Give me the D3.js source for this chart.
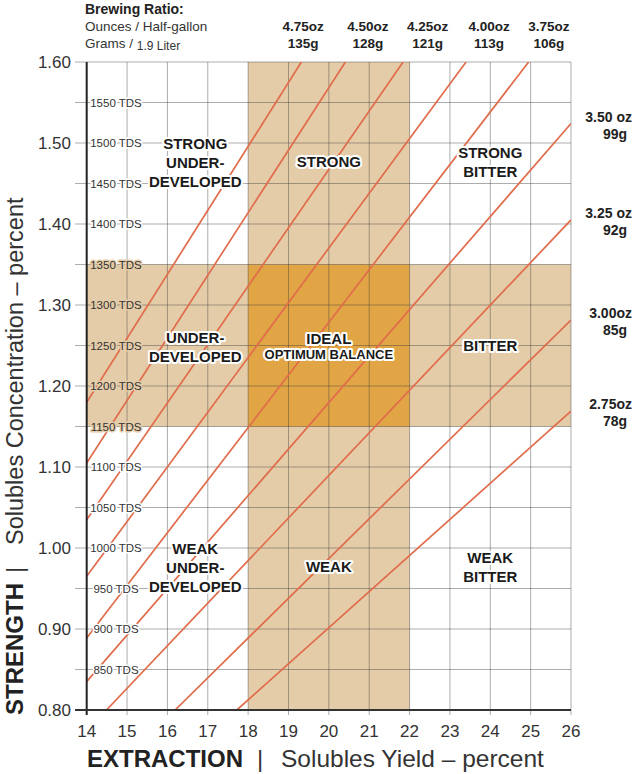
<!DOCTYPE html>
<html><head><meta charset="utf-8">
<script src="https://cdn.jsdelivr.net/npm/d3@7"></script>
<style>body{margin:0;background:#fff}svg{display:block}</style>
</head><body>
<script>
// ---- data ----
const extractionTicks = [14,15,16,17,18,19,20,21,22,23,24,25,26];
const strengthTicks = [0.80,0.90,1.00,1.10,1.20,1.30,1.40,1.50,1.60];
const tdsLevels = [850,900,950,1000,1050,1100,1150,1200,1250,1300,1350,1400,1450,1500,1550];
const idealExtraction = [18, 22];
const idealStrength = [1.15, 1.35];
const ratioOunces = ["4.75oz","4.50oz","4.25oz","4.00oz","3.75oz","3.50 oz","3.25 oz","3.00oz","2.75oz"];
const ratioGrams  = ["135g","128g","121g","113g","106g","99g","92g","85g","78g"];
const lineStartExtraction = [14, 14, 14, 14, 14, 14, 14.49, 16.19, 17.72];
const lineStartStrength   = [1.180, 1.105, 1.035, 0.965, 0.889, 0.835, 0.80, 0.80, 0.80];
const lineEndExtraction   = [19.32, 20.41, 21.84, 23.40, 24.95, 26, 26, 26, 26];
const lineEndStrength     = [1.60, 1.60, 1.60, 1.60, 1.60, 1.524, 1.405, 1.2815, 1.169];
const topLabelExtraction  = [19.36, 20.97, 22.45, 23.97, 25.45];
const zoneNames = [["STRONG","UNDER-","DEVELOPED"],["STRONG"],["STRONG","BITTER"],
                   ["UNDER-","DEVELOPED"],["IDEAL"],["BITTER"],
                   ["WEAK","UNDER-","DEVELOPED"],["WEAK"],["WEAK","BITTER"]];
const zoneExtraction = [16.69, 20.0, 24.0, 16.69, 20.0, 24.0, 16.69, 20.0, 24.0];
const zoneStrength   = [1.4926, 1.4704, 1.4815, 1.2531, 1.2519, 1.2432, 0.9926, 0.9704, 0.9815];
const idealSubtitle = "OPTIMUM BALANCE";

// ---- drawing ----
const W = 640, H = 774;
const FONT = "'Liberation Sans', Arial, Helvetica, sans-serif";
const x = d3.scaleLinear().domain([14, 26]).range([86.7, 571]);
const y = d3.scaleLinear().domain([0.80, 1.60]).range([710, 62]);
const TAN = "#E5CCA8", IDEAL = "#E1A546", LINE = "#E06C4B", GRID = "rgba(60,60,60,0.42)";

const svg = d3.select("body").append("svg").attr("width", W).attr("height", H)
  .style("font-family", FONT);

// bands
svg.append("rect").attr("x", x(idealExtraction[0])).attr("y", y(1.60))
  .attr("width", x(idealExtraction[1]) - x(idealExtraction[0])).attr("height", y(0.80) - y(1.60)).attr("fill", TAN);
svg.append("rect").attr("x", x(14)).attr("y", y(idealStrength[1]))
  .attr("width", x(26) - x(14)).attr("height", y(idealStrength[0]) - y(idealStrength[1])).attr("fill", TAN);
svg.append("rect").attr("x", x(idealExtraction[0])).attr("y", y(idealStrength[1]))
  .attr("width", x(idealExtraction[1]) - x(idealExtraction[0]))
  .attr("height", y(idealStrength[0]) - y(idealStrength[1])).attr("fill", IDEAL);

// grid
const tdsStrength = tdsLevels.map(t => t / 1000);
svg.append("g").selectAll("line").data(tdsStrength.concat([1.60])).join("line")
  .attr("x1", 75).attr("x2", x(26)).attr("y1", d => y(d)).attr("y2", d => y(d))
  .attr("stroke", GRID).attr("stroke-width", 1);
svg.append("g").selectAll("line").data(extractionTicks.slice(1)).join("line")
  .attr("x1", d => x(d)).attr("x2", d => x(d)).attr("y1", y(1.60)).attr("y2", y(0.80) + 5)
  .attr("stroke", GRID).attr("stroke-width", 1);

// ratio lines
const clipId = "plotclip";
svg.append("clipPath").attr("id", clipId).append("rect")
  .attr("x", x(14)).attr("y", y(1.60)).attr("width", x(26) - x(14)).attr("height", y(0.80) - y(1.60));
svg.append("g").attr("clip-path", `url(#${clipId})`).selectAll("line").data(ratioOunces).join("line")
  .attr("x1", (d, i) => x(lineStartExtraction[i])).attr("y1", (d, i) => y(lineStartStrength[i]))
  .attr("x2", (d, i) => x(lineEndExtraction[i])).attr("y2", (d, i) => y(lineEndStrength[i]))
  .attr("stroke", LINE).attr("stroke-width", 1.7);

// axes lines
svg.append("line").attr("x1", x(14)).attr("x2", x(14)).attr("y1", y(1.60)).attr("y2", y(0.80) + 5)
  .attr("stroke", "#222").attr("stroke-width", 2);
svg.append("line").attr("x1", 75).attr("x2", x(26)).attr("y1", y(0.80)).attr("y2", y(0.80))
  .attr("stroke", "#333").attr("stroke-width", 2.2);

// y tick labels
svg.append("g").selectAll("text").data(strengthTicks).join("text")
  .attr("x", 71).attr("y", d => y(d) + 6).attr("text-anchor", "end")
  .attr("font-size", 17).attr("fill", "#333").text(d => d.toFixed(2));
// x tick labels
svg.append("g").selectAll("text").data(extractionTicks).join("text")
  .attr("x", d => x(d)).attr("y", 737).attr("text-anchor", "middle")
  .attr("font-size", 17).attr("fill", "#333").text(d => d);

// TDS labels
svg.append("g").selectAll("text").data(tdsLevels).join("text")
  .attr("x", 116).attr("y", d => y(d / 1000) + 4).attr("text-anchor", "middle")
  .attr("font-size", 11.5).attr("fill", "#333")
  .attr("stroke", d => (d / 1000 >= idealStrength[0] && d / 1000 <= idealStrength[1]) ? TAN : "#fff")
  .attr("stroke-width", 3).attr("paint-order", "stroke").attr("stroke-linejoin", "round")
  .text(d => d + " TDS");

// zone labels
const zg = svg.append("g");
zoneNames.forEach((lines, i) => {
  const t = zg.append("text").attr("text-anchor", "middle").attr("font-weight", "bold")
    .attr("font-size", 15).attr("fill", "#1a1a1a")
    .attr("stroke", "#fff").attr("stroke-width", 4).attr("paint-order", "stroke").attr("stroke-linejoin", "round");
  lines.forEach((s, j) => {
    t.append("tspan").attr("x", x(zoneExtraction[i])).attr("y", y(zoneStrength[i]) + j * 19).text(s);
  });
  if (lines[0] === "IDEAL") {
    zg.append("text").attr("text-anchor", "middle").attr("font-weight", "bold")
      .attr("font-size", 13).attr("fill", "#1a1a1a")
      .attr("stroke", "#fff").attr("stroke-width", 4).attr("paint-order", "stroke").attr("stroke-linejoin", "round")
      .attr("x", x(zoneExtraction[i])).attr("y", y(zoneStrength[i]) + 15).text(idealSubtitle);
  }
});

// header
svg.append("text").attr("x", 85).attr("y", 14).attr("font-size", 14).attr("font-weight", "bold")
  .attr("fill", "#222").text("Brewing Ratio:");
svg.append("text").attr("x", 85).attr("y", 31).attr("font-size", 13.5).attr("fill", "#333")
  .text("Ounces / Half-gallon");
const gt = svg.append("text").attr("x", 85).attr("y", 48).attr("font-size", 13.5).attr("fill", "#333");
gt.append("tspan").text("Grams / ");
gt.append("tspan").attr("font-size", 12).attr("dy", 2).text("1.9 Liter");

// top ratio labels
svg.append("g").selectAll("text").data(topLabelExtraction).join("text")
  .attr("x", d => x(d)).attr("y", 31).attr("text-anchor", "middle")
  .attr("font-size", 13.5).attr("font-weight", "bold").attr("fill", "#222")
  .text((d, i) => ratioOunces[i]);
svg.append("g").selectAll("text").data(topLabelExtraction).join("text")
  .attr("x", d => x(d)).attr("y", 48).attr("text-anchor", "middle")
  .attr("font-size", 13.5).attr("font-weight", "bold").attr("fill", "#222")
  .text((d, i) => ratioGrams[i]);

// right ratio labels
const rightIdx = [5, 6, 7, 8];
svg.append("g").selectAll("text").data(rightIdx).join("text")
  .attr("x", 632).attr("y", i => y(lineEndStrength[i]) - 2).attr("text-anchor", "end")
  .attr("font-size", 14).attr("font-weight", "bold").attr("fill", "#222").text(i => ratioOunces[i]);
svg.append("g").selectAll("text").data(rightIdx).join("text")
  .attr("x", 627).attr("y", i => y(lineEndStrength[i]) + 15).attr("text-anchor", "end")
  .attr("font-size", 14).attr("font-weight", "bold").attr("fill", "#222").text(i => ratioGrams[i]);

// axis titles
const xt = svg.append("text").attr("y", 767).attr("font-size", 24).attr("fill", "#222");
xt.append("tspan").attr("x", 87).attr("font-weight", "bold").text("EXTRACTION");
xt.append("tspan").attr("x", 257).attr("fill", "#333").text("|");
xt.append("tspan").attr("x", 281).attr("fill", "#333").attr("font-size", 24.5).text("Solubles Yield – percent");

const yt = svg.append("text").attr("transform", "translate(23,715) rotate(-90)")
  .attr("font-size", 24).attr("fill", "#222");
yt.append("tspan").attr("x", 0).attr("font-weight", "bold").text("STRENGTH");
yt.append("tspan").attr("x", 142).attr("fill", "#333").text("|");
yt.append("tspan").attr("x", 170).attr("fill", "#333").attr("font-size", 23.5).text("Solubles Concentration – percent");
</script>
</body></html>
